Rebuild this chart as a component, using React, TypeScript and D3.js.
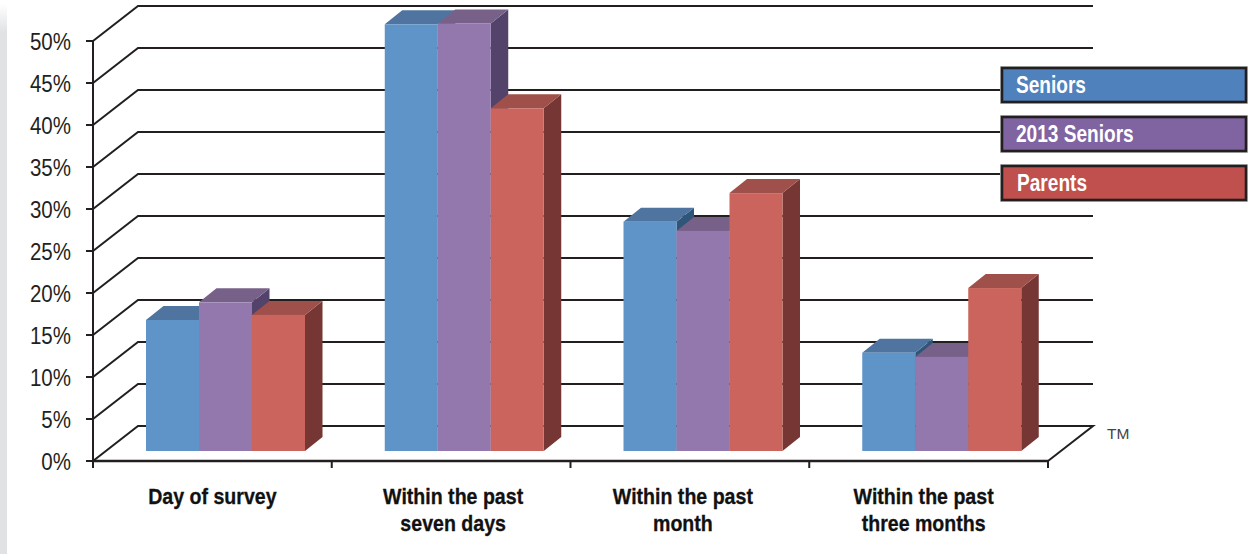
import React from "react";
import * as d3 from "d3";

const categories = [
  ["Day of survey"],
  ["Within the past", "seven days"],
  ["Within the past", "month"],
  ["Within the past", "three months"],
];
const seriesNames = ["Seniors", "2013 Seniors", "Parents"];
const seniors = [15.6, 50.8, 27.3, 11.7];
const seniors2013 = [17.7, 50.9, 26.2, 11.2];
const parents = [16.2, 40.8, 30.7, 19.4];
const yTicks = [0, 5, 10, 15, 20, 25, 30, 35, 40, 45, 50];

const seriesValues = [seniors, seniors2013, parents];
const legendFill = ["#4f81bd", "#8064a2", "#c0504d"];
const frontFill = ["#5f94c9", "#9378ae", "#cb645c"];
const topFill = ["#4e749f", "#776189", "#a0504a"];
const sideFill = ["#2f5678", "#53436a", "#763633"];

const INK = "#231f20";
const SANS = "'Liberation Sans', Arial, sans-serif";

// Oblique projection of the chart box
const wallDx = 45;
const wallDy = -35;
const barDx = 17.5;
const barDy = -14;
const barLift = 10;
const labelShift = [0, 2, -7, -5];

const y = d3.scaleLinear().domain([0, 50]).range([461, 41]);
const xGroup = d3.scaleBand<number>().domain(d3.range(4)).range([93, 1048]);
const xBar = d3.scaleBand<number>().domain(d3.range(3)).range([53, 212]);

const poly = (pts: [number, number][]) => pts.map((p) => p.join(",")).join(" ");

// Text squeezed horizontally around its anchor, standing in for a condensed face
function Narrow({ x, y: ty, sx, children, ...rest }: any) {
  return (
    <text transform={`translate(${x},${ty}) scale(${sx},1)`} fontFamily={SANS} {...rest}>
      {children}
    </text>
  );
}

export default function App() {
  return (
    <svg
      width={1251}
      height={554}
      viewBox="0 0 1251 554"
      style={{ position: "absolute", left: 0, top: 0, display: "block", background: "#fff" }}
    >
      <defs>
        <linearGradient id="edge" x1="0" x2="0" y1="0" y2="1">
          <stop offset="0" stopColor="#ffffff" />
          <stop offset="1" stopColor="#e1e2e4" />
        </linearGradient>
      </defs>
      <rect x={0} y={4} width={7} height={28} fill="url(#edge)" />
      <rect x={0} y={32} width={7} height={522} fill="#e1e2e4" />

      {/* wall and back gridlines */}
      {yTicks.map((t) =>
        t === 0 ? null : (
          <polyline
            key={t}
            points={poly([
              [93, y(t)],
              [93 + wallDx, y(t) + wallDy],
              [1093, y(t) + wallDy],
            ])}
            fill="none"
            stroke={INK}
            strokeWidth={2}
          />
        )
      )}
      <polyline
        points={poly([
          [93, y(0)],
          [93 + wallDx, y(0) + wallDy],
          [1093, y(0) + wallDy],
          [1048, y(0)],
        ])}
        fill="none"
        stroke={INK}
        strokeWidth={2}
      />

      {/* axes */}
      <line x1={93} x2={93} y1={y(50)} y2={y(0) + 7} stroke={INK} strokeWidth={2} />
      <line x1={93} x2={1048} y1={y(0)} y2={y(0)} stroke={INK} strokeWidth={2.4} />
      {yTicks.map((t) => (
        <g key={t}>
          <line x1={86} x2={93} y1={y(t)} y2={y(t)} stroke={INK} strokeWidth={2} />
          <Narrow x={71} y={y(t) + 8.5} sx={0.855} textAnchor="end" fontSize={24} fill={INK}>
            {t}%
          </Narrow>
        </g>
      ))}
      {d3.range(5).map((i) => {
        const tx = 93 + i * xGroup.bandwidth();
        return <line key={i} x1={tx} x2={tx} y1={y(0)} y2={y(0) + 7} stroke={INK} strokeWidth={2} />;
      })}

      {/* bars, painted left to right so nearer faces overlap */}
      {categories.map((_, g) => (
        <g key={g}>
          {seriesValues.map((vals, s) => {
            const x0 = (xGroup(g) as number) + (xBar(s) as number);
            const w = xBar.bandwidth();
            const base = y(0) - barLift;
            const top = y(vals[g]) - barLift;
            return (
              <g key={s}>
                <polygon
                  points={poly([
                    [x0 + w, top],
                    [x0 + w + barDx, top + barDy],
                    [x0 + w + barDx, base + barDy],
                    [x0 + w, base],
                  ])}
                  fill={sideFill[s]}
                />
                <polygon
                  points={poly([
                    [x0, top],
                    [x0 + barDx, top + barDy],
                    [x0 + w + barDx, top + barDy],
                    [x0 + w, top],
                  ])}
                  fill={topFill[s]}
                />
                <rect x={x0} y={top} width={w} height={base - top} fill={frontFill[s]} />
              </g>
            );
          })}
        </g>
      ))}

      {/* category labels */}
      {categories.map((lines, g) =>
        lines.map((line, i) => (
          <Narrow
            key={line + g}
            x={(xGroup(g) as number) + xGroup.bandwidth() / 2 + labelShift[g]}
            y={504 + i * 27}
            sx={0.89}
            textAnchor="middle"
            fontWeight={700}
            fontSize={22}
            fill="#111"
            stroke="#111"
            strokeWidth={0.3}
          >
            {line}
          </Narrow>
        ))
      )}

      <text x={1107} y={439} fontFamily={SANS} fontSize={15.5} fill="#444">
        TM
      </text>

      {/* legend */}
      {seriesNames.map((name, i) => (
        <g key={name}>
          <rect
            x={1000.5}
            y={66.5 + i * 49}
            width={247}
            height={37}
            fill="none"
            stroke="#c9c9c9"
            strokeWidth={1}
          />
          <rect
            x={1002}
            y={68 + i * 49}
            width={244}
            height={34}
            fill={legendFill[i]}
            stroke={INK}
            strokeWidth={2.6}
          />
          <Narrow
            x={i === 2 ? 1017 : 1016}
            y={93 + i * 49}
            sx={0.83}
            fontWeight={700}
            fontSize={23}
            fill="#fff"
          >
            {name}
          </Narrow>
        </g>
      ))}
    </svg>
  );
}
